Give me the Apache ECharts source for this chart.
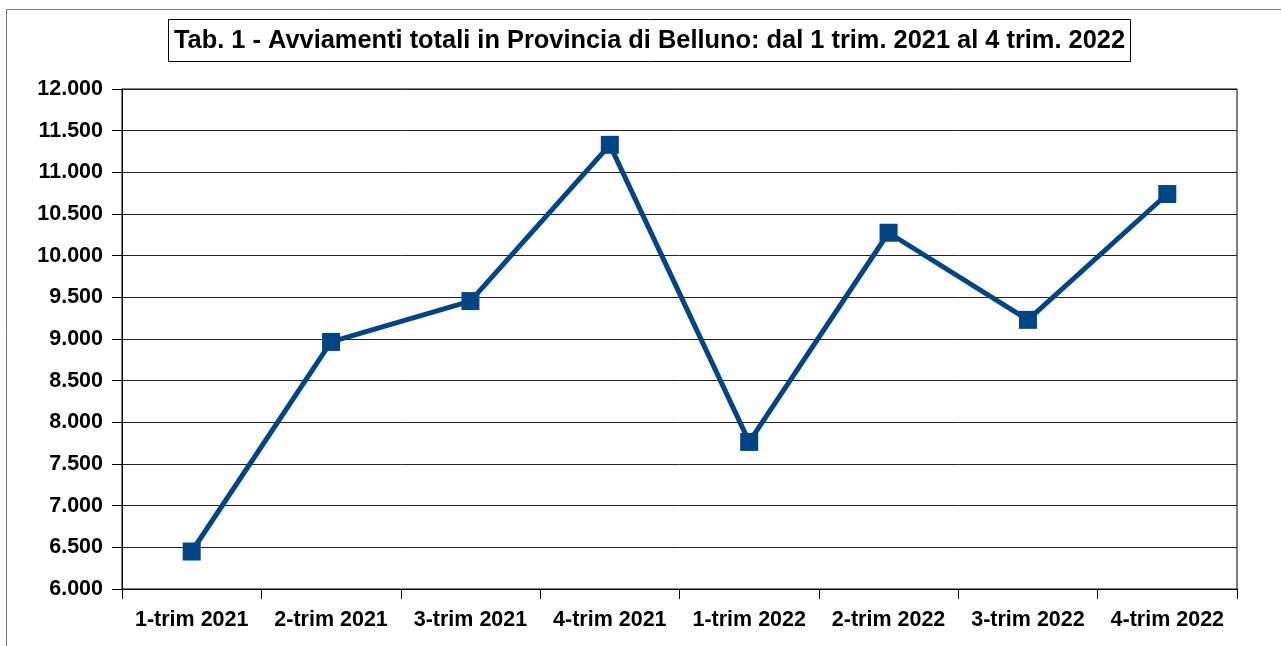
<!DOCTYPE html>
<html>
<head>
<meta charset="utf-8">
<script src="https://cdn.jsdelivr.net/npm/echarts@6/dist/echarts.min.js"></script>
<style>
  html, body { margin: 0; padding: 0; background: #fff; }
  #chart { width: 1281px; height: 646px; }
</style>
</head>
<body>
<div id="chart"></div>
<script>
var categories = ['1-trim 2021', '2-trim 2021', '3-trim 2021', '4-trim 2021',
                  '1-trim 2022', '2-trim 2022', '3-trim 2022', '4-trim 2022'];
var avviamenti = [6450, 8965, 9455, 11330, 7765, 10275, 9230, 10740];
var titleText = 'Tab. 1 - Avviamenti totali in Provincia di Belluno: dal 1 trim. 2021 al 4 trim. 2022';

function fmt(v) {
    // separatore delle migliaia con il punto
    var s = String(Math.round(v));
    return s.replace(/\B(?=(\d{3})+(?!\d))/g, '.');
}

var myChart = echarts.init(document.getElementById('chart'));
var font = 'Liberation Sans, Arial, sans-serif';

var option = {
    backgroundColor: '#fff',
    animation: false,
    graphic: [{
        type: 'rect',
        shape: { x: 6.5, y: 9.5, width: 1300, height: 700 },
        style: { fill: 'none', stroke: '#777', lineWidth: 1 },
        silent: true
    }],
    title: {
        text: titleText,
        left: 168,
        top: 19,
        padding: [9, 6, 9, 6],
        borderColor: '#000',
        borderWidth: 1,
        textStyle: {
            fontFamily: font,
            fontSize: 25.4,
            fontWeight: 'bold',
            color: '#000'
        }
    },
    grid: {
        left: 122,
        right: 44,
        top: 89,
        bottom: 57,
        show: true,
        borderColor: '#000',
        borderWidth: 1
    },
    xAxis: {
        type: 'category',
        data: categories,
        boundaryGap: true,
        axisLine: { lineStyle: { color: '#000', width: 1 } },
        axisTick: { show: true, interval: 0, length: 10, lineStyle: { color: '#000' } },
        axisLabel: {
            interval: 0,
            margin: 20,
            fontFamily: font,
            fontSize: 21.5,
            fontWeight: 'bold',
            color: '#000'
        },
        splitLine: { show: false }
    },
    yAxis: {
        type: 'value',
        min: 6000,
        max: 12000,
        interval: 500,
        axisLine: { show: true, lineStyle: { color: '#000', width: 1 } },
        axisTick: { show: true, length: 10, lineStyle: { color: '#000' } },
        axisLabel: {
            margin: 19,
            formatter: fmt,
            fontFamily: font,
            fontSize: 21.5,
            fontWeight: 'bold',
            color: '#000'
        },
        splitLine: { show: true, lineStyle: { color: '#222', width: 1 } }
    },
    series: [{
        type: 'line',
        data: avviamenti,
        symbol: 'rect',
        symbolSize: 18,
        itemStyle: { color: '#004586' },
        lineStyle: { color: '#004586', width: 5 }
    }]
};
myChart.setOption(option);
</script>
</body>
</html>
